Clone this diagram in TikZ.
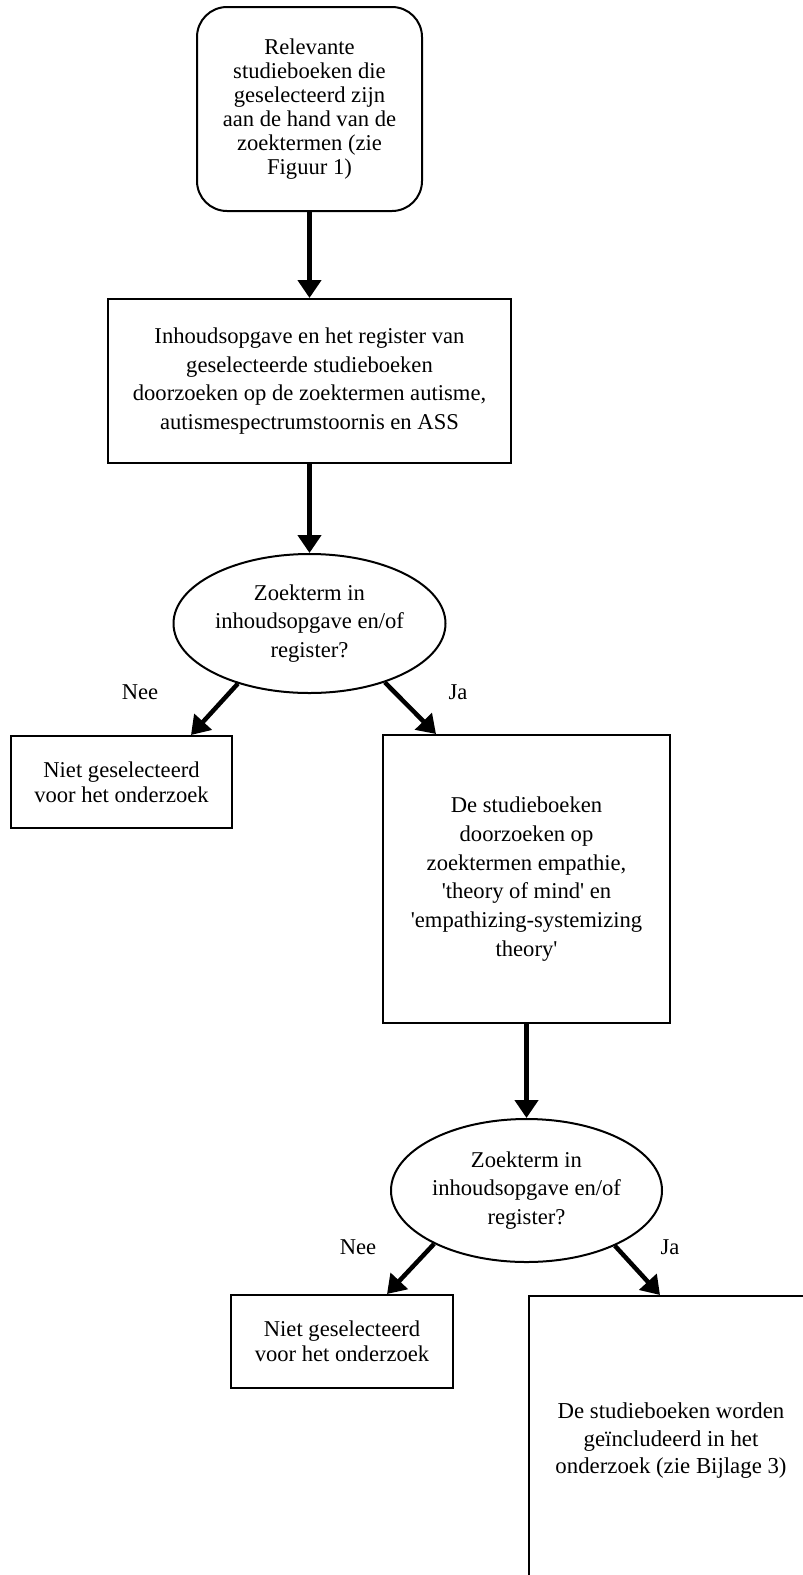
\documentclass[tikz,border=0pt]{standalone}
\usepackage{fontspec}
\setmainfont{Liberation Serif}[Ligatures=TeXOff]
\usetikzlibrary{arrows.meta,shapes.geometric}
\begin{document}
\begin{tikzpicture}[x=1pt,y=-1pt,
  txt/.style={font=\fontsize{22.6}{28.7}\selectfont, align=center, inner sep=0pt},
  boxnode/.style={draw, line width=2pt, rectangle, inner sep=0pt, txt},
  ellnode/.style={draw, line width=2pt, ellipse, inner sep=0pt, txt},
  flow/.style={line width=4.5pt, -{Triangle[width=23pt,length=18pt]}}]
\useasboundingbox[fill=white] (0,0) rectangle (803,1575);

\node[boxnode, rounded corners=30pt, minimum width=225pt, minimum height=204pt,
      font=\fontsize{22.6}{24}\selectfont] (tb) at (309.5,109)
  {Relevante\\studieboeken die\\geselecteerd zijn\\aan de hand van de\\zoektermen (zie\\Figuur 1)};

\node[boxnode, minimum width=403pt, minimum height=164pt] (b2) at (309.5,381)
  {Inhoudsopgave en het register van\\geselecteerde studieboeken\\doorzoeken op de zoektermen autisme,\\autismespectrumstoornis en ASS};

\node[ellnode, minimum width=272pt, minimum height=139pt] (e1) at (309.5,623.5)
  {Zoekterm in\\inhoudsopgave en/of\\register?};

\node[boxnode, minimum width=221pt, minimum height=92pt,
      font=\fontsize{22.6}{25}\selectfont] (n1) at (121.5,782)
  {Niet geselecteerd\\voor het onderzoek};

\node[boxnode, minimum width=287pt, minimum height=288pt] (d1) at (526.5,879)
  {De studieboeken\\doorzoeken op\\zoektermen empathie,\\'theory of mind' en\\'empathizing-systemizing\\theory'};

\node[ellnode, minimum width=271pt, minimum height=143pt] (e2) at (526.5,1190.5)
  {Zoekterm in\\inhoudsopgave en/of\\register?};

\node[boxnode, minimum width=222pt, minimum height=93pt,
      font=\fontsize{22.6}{25}\selectfont] (n2) at (342,1341.5)
  {Niet geselecteerd\\voor het onderzoek};

\node[boxnode, minimum width=340pt, minimum height=340pt, anchor=north west] (inc) at (528,1295) {};
\node[txt, font=\fontsize{22.8}{27.5}\selectfont] (inct) at (671,1441)
  {De studieboeken worden\\geïncludeerd in het\\onderzoek (zie Bijlage 3)};

\node[txt] (nee1) at (140,692) {Nee};
\node[txt] (ja1) at (458,692) {Ja};
\node[txt] (nee2) at (358,1247) {Nee};
\node[txt] (ja2) at (670,1247) {Ja};

\draw[flow] (tb.south) -- (b2.north);
\draw[flow] (b2.south) -- (e1.north);
\draw[flow] (e1.220.8) -- ([xshift=-42pt]n1.north east);
\draw[flow] (e1.322.8) -- ([xshift=54pt]d1.north west);
\draw[flow] (d1.south) -- (e2.north);
\draw[flow] (e2.210.4) -- ([xshift=-67pt]n2.north east);
\draw[flow] (e2.328) -- ([xshift=132pt]inc.north west);
\end{tikzpicture}
\end{document}
